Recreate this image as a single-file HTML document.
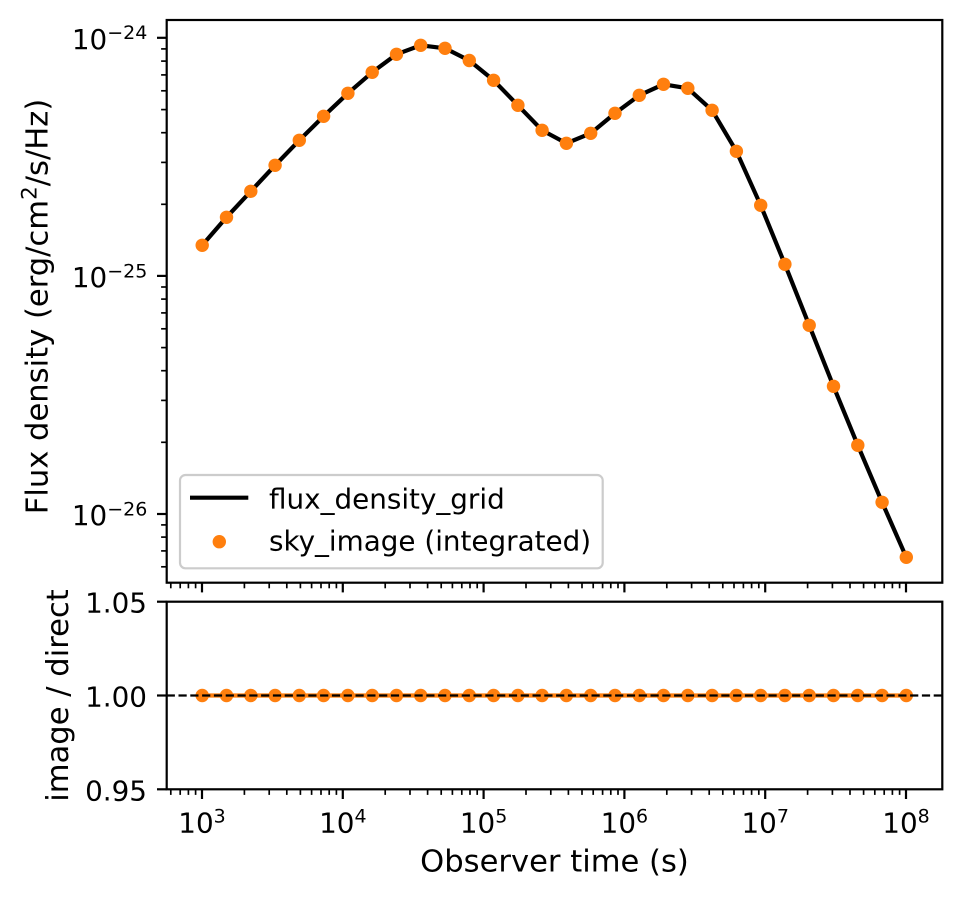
<!DOCTYPE html>
<html>
<head>
<meta charset="utf-8">
<style>
html,body{margin:0;padding:0;background:#ffffff;}
body{width:961px;height:899px;overflow:hidden;position:relative;}
svg{position:absolute;left:0;top:0;}
text{font-family:"DejaVu Sans","Liberation Sans",sans-serif;fill:#000;}
</style>
</head>
<body>
<svg width="961" height="899" viewBox="0 0 961 899" xmlns="http://www.w3.org/2000/svg">
<rect x="0" y="0" width="961" height="899" fill="#ffffff"/>

<!-- ================= TOP PANEL ================= -->
<!-- data line -->
<polyline fill="none" stroke="#000000" stroke-width="4.2" stroke-linejoin="round" stroke-linecap="butt"
 points="202.2,245.3 226.5,217.3 250.8,191.3 275.1,165.3 299.3,140.3 323.6,116.3 347.9,93.3 372.2,72.3 396.5,54.3 420.7,45.3 445,48.3 469.3,60.5 493.6,80.3 517.9,105.3 542.1,130.3 566.4,143.3 590.7,133.3 615,113.3 639.3,95.3 663.5,84.3 687.8,88.3 712.1,110.3 736.4,151.3 760.7,205.3 784.9,264.3 809.2,325.3 833.5,386.3 857.8,445.3 882.1,502.3 906.3,557.3"/>
<!-- markers -->
<g fill="#ff7f0e">
<circle cx="202.2" cy="245.3" r="6.7"/><circle cx="226.5" cy="217.3" r="6.7"/><circle cx="250.8" cy="191.3" r="6.7"/>
<circle cx="275.1" cy="165.3" r="6.7"/><circle cx="299.3" cy="140.3" r="6.7"/><circle cx="323.6" cy="116.3" r="6.7"/>
<circle cx="347.9" cy="93.3" r="6.7"/><circle cx="372.2" cy="72.3" r="6.7"/><circle cx="396.5" cy="54.3" r="6.7"/>
<circle cx="420.7" cy="45.3" r="6.7"/><circle cx="445" cy="48.3" r="6.7"/><circle cx="469.3" cy="60.5" r="6.7"/>
<circle cx="493.6" cy="80.3" r="6.7"/><circle cx="517.9" cy="105.3" r="6.7"/><circle cx="542.1" cy="130.3" r="6.7"/>
<circle cx="566.4" cy="143.3" r="6.7"/><circle cx="590.7" cy="133.3" r="6.7"/><circle cx="615" cy="113.3" r="6.7"/>
<circle cx="639.3" cy="95.3" r="6.7"/><circle cx="663.5" cy="84.3" r="6.7"/><circle cx="687.8" cy="88.3" r="6.7"/>
<circle cx="712.1" cy="110.3" r="6.7"/><circle cx="736.4" cy="151.3" r="6.7"/><circle cx="760.7" cy="205.3" r="6.7"/>
<circle cx="784.9" cy="264.3" r="6.7"/><circle cx="809.2" cy="325.3" r="6.7"/><circle cx="833.5" cy="386.3" r="6.7"/>
<circle cx="857.8" cy="445.3" r="6.7"/><circle cx="882.1" cy="502.3" r="6.7"/><circle cx="906.3" cy="557.3" r="6.7"/>
</g>

<!-- legend -->
<rect x="180" y="475" width="422.7" height="93.3" rx="5.5" ry="5.5" fill="#ffffff" fill-opacity="0.8" stroke="#cccccc" stroke-width="2.2"/>
<line x1="190" y1="497.7" x2="248.3" y2="497.7" stroke="#000" stroke-width="4.2"/>
<circle cx="219.3" cy="541.7" r="6.7" fill="#ff7f0e"/>
<text x="269" y="508.3" font-size="27.8">flux_density_grid</text>
<text x="269" y="550.7" font-size="27.8">sky_image (integrated)</text>

<!-- top panel spines -->
<rect x="166.7" y="20" width="775.6" height="562.7" fill="none" stroke="#000" stroke-width="2.2"/>

<!-- top panel y ticks major -->
<g stroke="#000" stroke-width="2.2">
<line x1="157" y1="37.8" x2="166.7" y2="37.8"/>
<line x1="157" y1="275.9" x2="166.7" y2="275.9"/>
<line x1="157" y1="514" x2="166.7" y2="514"/>
</g>
<!-- top panel y ticks minor -->
<g stroke="#000" stroke-width="1.67">
<line x1="161.1" y1="48.9" x2="166.7" y2="48.9"/>
<line x1="161.1" y1="61.1" x2="166.7" y2="61.1"/>
<line x1="161.1" y1="74.9" x2="166.7" y2="74.9"/>
<line x1="161.1" y1="90.8" x2="166.7" y2="90.8"/>
<line x1="161.1" y1="109.6" x2="166.7" y2="109.6"/>
<line x1="161.1" y1="132.7" x2="166.7" y2="132.7"/>
<line x1="161.1" y1="162.4" x2="166.7" y2="162.4"/>
<line x1="161.1" y1="204.3" x2="166.7" y2="204.3"/>
<line x1="161.1" y1="287" x2="166.7" y2="287"/>
<line x1="161.1" y1="299.1" x2="166.7" y2="299.1"/>
<line x1="161.1" y1="312.9" x2="166.7" y2="312.9"/>
<line x1="161.1" y1="328.8" x2="166.7" y2="328.8"/>
<line x1="161.1" y1="347.6" x2="166.7" y2="347.6"/>
<line x1="161.1" y1="370.7" x2="166.7" y2="370.7"/>
<line x1="161.1" y1="400.4" x2="166.7" y2="400.4"/>
<line x1="161.1" y1="442.3" x2="166.7" y2="442.3"/>
<line x1="161.1" y1="524.9" x2="166.7" y2="524.9"/>
<line x1="161.1" y1="537.1" x2="166.7" y2="537.1"/>
<line x1="161.1" y1="550.9" x2="166.7" y2="550.9"/>
<line x1="161.1" y1="566.8" x2="166.7" y2="566.8"/>
</g>

<!-- top panel y tick labels -->
<text x="147.3" y="48.8" font-size="27.8" text-anchor="end">10<tspan dy="-9.6" font-size="19">−24</tspan></text>
<text x="147.3" y="286.9" font-size="27.8" text-anchor="end">10<tspan dy="-9.6" font-size="19">−25</tspan></text>
<text x="147.3" y="525" font-size="27.8" text-anchor="end">10<tspan dy="-9.6" font-size="19">−26</tspan></text>

<!-- top panel x ticks (no labels) -->
<g stroke="#000" stroke-width="2.2">
<line x1="202" y1="582.7" x2="202" y2="592.4"/>
<line x1="342.8" y1="582.7" x2="342.8" y2="592.4"/>
<line x1="483.6" y1="582.7" x2="483.6" y2="592.4"/>
<line x1="624.4" y1="582.7" x2="624.4" y2="592.4"/>
<line x1="765.2" y1="582.7" x2="765.2" y2="592.4"/>
<line x1="906" y1="582.7" x2="906" y2="592.4"/>
</g>
<g stroke="#000" stroke-width="1.67" id="minx">
<line x1="170.8" y1="582.7" x2="170.8" y2="588.3"/><line x1="180.2" y1="582.7" x2="180.2" y2="588.3"/><line x1="188.4" y1="582.7" x2="188.4" y2="588.3"/><line x1="195.6" y1="582.7" x2="195.6" y2="588.3"/>
<line x1="244.4" y1="582.7" x2="244.4" y2="588.3"/><line x1="269.2" y1="582.7" x2="269.2" y2="588.3"/><line x1="286.8" y1="582.7" x2="286.8" y2="588.3"/><line x1="300.4" y1="582.7" x2="300.4" y2="588.3"/><line x1="311.6" y1="582.7" x2="311.6" y2="588.3"/><line x1="321" y1="582.7" x2="321" y2="588.3"/><line x1="329.2" y1="582.7" x2="329.2" y2="588.3"/><line x1="336.4" y1="582.7" x2="336.4" y2="588.3"/>
<line x1="385.2" y1="582.7" x2="385.2" y2="588.3"/><line x1="410" y1="582.7" x2="410" y2="588.3"/><line x1="427.6" y1="582.7" x2="427.6" y2="588.3"/><line x1="441.2" y1="582.7" x2="441.2" y2="588.3"/><line x1="452.4" y1="582.7" x2="452.4" y2="588.3"/><line x1="461.8" y1="582.7" x2="461.8" y2="588.3"/><line x1="470" y1="582.7" x2="470" y2="588.3"/><line x1="477.2" y1="582.7" x2="477.2" y2="588.3"/>
<line x1="526" y1="582.7" x2="526" y2="588.3"/><line x1="550.8" y1="582.7" x2="550.8" y2="588.3"/><line x1="568.4" y1="582.7" x2="568.4" y2="588.3"/><line x1="582" y1="582.7" x2="582" y2="588.3"/><line x1="593.2" y1="582.7" x2="593.2" y2="588.3"/><line x1="602.6" y1="582.7" x2="602.6" y2="588.3"/><line x1="610.8" y1="582.7" x2="610.8" y2="588.3"/><line x1="618" y1="582.7" x2="618" y2="588.3"/>
<line x1="666.8" y1="582.7" x2="666.8" y2="588.3"/><line x1="691.6" y1="582.7" x2="691.6" y2="588.3"/><line x1="709.2" y1="582.7" x2="709.2" y2="588.3"/><line x1="722.8" y1="582.7" x2="722.8" y2="588.3"/><line x1="734" y1="582.7" x2="734" y2="588.3"/><line x1="743.4" y1="582.7" x2="743.4" y2="588.3"/><line x1="751.6" y1="582.7" x2="751.6" y2="588.3"/><line x1="758.8" y1="582.7" x2="758.8" y2="588.3"/>
<line x1="807.6" y1="582.7" x2="807.6" y2="588.3"/><line x1="832.4" y1="582.7" x2="832.4" y2="588.3"/><line x1="850" y1="582.7" x2="850" y2="588.3"/><line x1="863.6" y1="582.7" x2="863.6" y2="588.3"/><line x1="874.8" y1="582.7" x2="874.8" y2="588.3"/><line x1="884.2" y1="582.7" x2="884.2" y2="588.3"/><line x1="892.4" y1="582.7" x2="892.4" y2="588.3"/><line x1="899.6" y1="582.7" x2="899.6" y2="588.3"/>
</g>

<!-- top ylabel -->
<text transform="translate(47.4,306.5) rotate(-90)" font-size="30.6" text-anchor="middle">Flux density (erg/cm<tspan dy="-11" font-size="21.4">2</tspan><tspan dy="11" font-size="30.6">/s/Hz)</tspan></text>

<!-- ================= BOTTOM PANEL ================= -->
<line x1="202.2" y1="695.5" x2="906.3" y2="695.5" stroke="#ff7f0e" stroke-width="4.2"/>
<g fill="#ff7f0e">
<circle cx="202.2" cy="695.5" r="6.7"/><circle cx="226.5" cy="695.5" r="6.7"/><circle cx="250.8" cy="695.5" r="6.7"/>
<circle cx="275.1" cy="695.5" r="6.7"/><circle cx="299.3" cy="695.5" r="6.7"/><circle cx="323.6" cy="695.5" r="6.7"/>
<circle cx="347.9" cy="695.5" r="6.7"/><circle cx="372.2" cy="695.5" r="6.7"/><circle cx="396.5" cy="695.5" r="6.7"/>
<circle cx="420.7" cy="695.5" r="6.7"/><circle cx="445" cy="695.5" r="6.7"/><circle cx="469.3" cy="695.5" r="6.7"/>
<circle cx="493.6" cy="695.5" r="6.7"/><circle cx="517.9" cy="695.5" r="6.7"/><circle cx="542.1" cy="695.5" r="6.7"/>
<circle cx="566.4" cy="695.5" r="6.7"/><circle cx="590.7" cy="695.5" r="6.7"/><circle cx="615" cy="695.5" r="6.7"/>
<circle cx="639.3" cy="695.5" r="6.7"/><circle cx="663.5" cy="695.5" r="6.7"/><circle cx="687.8" cy="695.5" r="6.7"/>
<circle cx="712.1" cy="695.5" r="6.7"/><circle cx="736.4" cy="695.5" r="6.7"/><circle cx="760.7" cy="695.5" r="6.7"/>
<circle cx="784.9" cy="695.5" r="6.7"/><circle cx="809.2" cy="695.5" r="6.7"/><circle cx="833.5" cy="695.5" r="6.7"/>
<circle cx="857.8" cy="695.5" r="6.7"/><circle cx="882.1" cy="695.5" r="6.7"/><circle cx="906.3" cy="695.5" r="6.7"/>
</g>
<line x1="166.7" y1="695.5" x2="942.3" y2="695.5" stroke="#000" stroke-width="2.2" stroke-dasharray="8.2 3.6"/>

<!-- bottom spines -->
<rect x="166.7" y="601.7" width="775.6" height="187.6" fill="none" stroke="#000" stroke-width="2.2"/>

<!-- bottom y ticks -->
<g stroke="#000" stroke-width="2.2">
<line x1="157" y1="601.7" x2="166.7" y2="601.7"/>
<line x1="157" y1="695.5" x2="166.7" y2="695.5"/>
<line x1="157" y1="789.3" x2="166.7" y2="789.3"/>
</g>
<text x="147" y="612.7" font-size="27.8" text-anchor="end">1.05</text>
<text x="147" y="706.5" font-size="27.8" text-anchor="end">1.00</text>
<text x="147" y="800.3" font-size="27.8" text-anchor="end">0.95</text>

<!-- bottom x ticks -->
<g stroke="#000" stroke-width="2.2">
<line x1="202" y1="789.3" x2="202" y2="799"/>
<line x1="342.8" y1="789.3" x2="342.8" y2="799"/>
<line x1="483.6" y1="789.3" x2="483.6" y2="799"/>
<line x1="624.4" y1="789.3" x2="624.4" y2="799"/>
<line x1="765.2" y1="789.3" x2="765.2" y2="799"/>
<line x1="906" y1="789.3" x2="906" y2="799"/>
</g>
<g stroke="#000" stroke-width="1.67" transform="translate(0,206.6)">
<line x1="170.8" y1="582.7" x2="170.8" y2="588.3"/><line x1="180.2" y1="582.7" x2="180.2" y2="588.3"/><line x1="188.4" y1="582.7" x2="188.4" y2="588.3"/><line x1="195.6" y1="582.7" x2="195.6" y2="588.3"/>
<line x1="244.4" y1="582.7" x2="244.4" y2="588.3"/><line x1="269.2" y1="582.7" x2="269.2" y2="588.3"/><line x1="286.8" y1="582.7" x2="286.8" y2="588.3"/><line x1="300.4" y1="582.7" x2="300.4" y2="588.3"/><line x1="311.6" y1="582.7" x2="311.6" y2="588.3"/><line x1="321" y1="582.7" x2="321" y2="588.3"/><line x1="329.2" y1="582.7" x2="329.2" y2="588.3"/><line x1="336.4" y1="582.7" x2="336.4" y2="588.3"/>
<line x1="385.2" y1="582.7" x2="385.2" y2="588.3"/><line x1="410" y1="582.7" x2="410" y2="588.3"/><line x1="427.6" y1="582.7" x2="427.6" y2="588.3"/><line x1="441.2" y1="582.7" x2="441.2" y2="588.3"/><line x1="452.4" y1="582.7" x2="452.4" y2="588.3"/><line x1="461.8" y1="582.7" x2="461.8" y2="588.3"/><line x1="470" y1="582.7" x2="470" y2="588.3"/><line x1="477.2" y1="582.7" x2="477.2" y2="588.3"/>
<line x1="526" y1="582.7" x2="526" y2="588.3"/><line x1="550.8" y1="582.7" x2="550.8" y2="588.3"/><line x1="568.4" y1="582.7" x2="568.4" y2="588.3"/><line x1="582" y1="582.7" x2="582" y2="588.3"/><line x1="593.2" y1="582.7" x2="593.2" y2="588.3"/><line x1="602.6" y1="582.7" x2="602.6" y2="588.3"/><line x1="610.8" y1="582.7" x2="610.8" y2="588.3"/><line x1="618" y1="582.7" x2="618" y2="588.3"/>
<line x1="666.8" y1="582.7" x2="666.8" y2="588.3"/><line x1="691.6" y1="582.7" x2="691.6" y2="588.3"/><line x1="709.2" y1="582.7" x2="709.2" y2="588.3"/><line x1="722.8" y1="582.7" x2="722.8" y2="588.3"/><line x1="734" y1="582.7" x2="734" y2="588.3"/><line x1="743.4" y1="582.7" x2="743.4" y2="588.3"/><line x1="751.6" y1="582.7" x2="751.6" y2="588.3"/><line x1="758.8" y1="582.7" x2="758.8" y2="588.3"/>
<line x1="807.6" y1="582.7" x2="807.6" y2="588.3"/><line x1="832.4" y1="582.7" x2="832.4" y2="588.3"/><line x1="850" y1="582.7" x2="850" y2="588.3"/><line x1="863.6" y1="582.7" x2="863.6" y2="588.3"/><line x1="874.8" y1="582.7" x2="874.8" y2="588.3"/><line x1="884.2" y1="582.7" x2="884.2" y2="588.3"/><line x1="892.4" y1="582.7" x2="892.4" y2="588.3"/><line x1="899.6" y1="582.7" x2="899.6" y2="588.3"/>
</g>

<!-- bottom x tick labels -->
<text x="202" y="832.3" font-size="27.8" text-anchor="middle">10<tspan dy="-9.6" font-size="19">3</tspan></text>
<text x="342.8" y="832.3" font-size="27.8" text-anchor="middle">10<tspan dy="-9.6" font-size="19">4</tspan></text>
<text x="483.6" y="832.3" font-size="27.8" text-anchor="middle">10<tspan dy="-9.6" font-size="19">5</tspan></text>
<text x="624.4" y="832.3" font-size="27.8" text-anchor="middle">10<tspan dy="-9.6" font-size="19">6</tspan></text>
<text x="765.2" y="832.3" font-size="27.8" text-anchor="middle">10<tspan dy="-9.6" font-size="19">7</tspan></text>
<text x="906" y="832.3" font-size="27.8" text-anchor="middle">10<tspan dy="-9.6" font-size="19">8</tspan></text>

<!-- x label -->
<text x="554.5" y="871.5" font-size="30.6" text-anchor="middle">Observer time (s)</text>

<!-- bottom ylabel -->
<text transform="translate(68,695.5) rotate(-90)" font-size="30.6" text-anchor="middle">image / direct</text>
</svg>
</body>
</html>
